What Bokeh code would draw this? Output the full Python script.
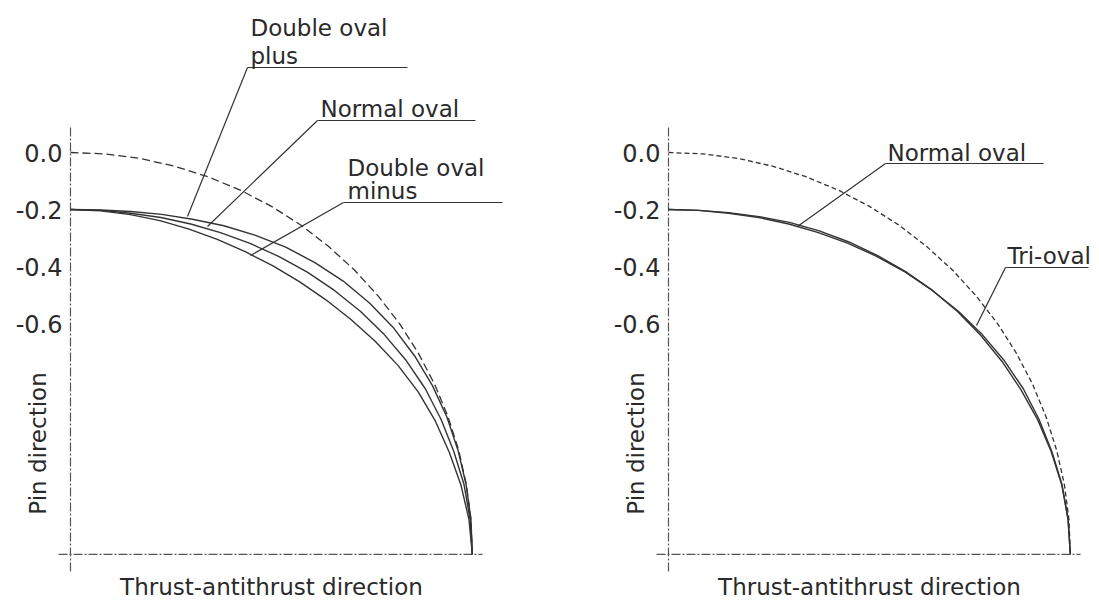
from math import pi
from bokeh.plotting import figure
from bokeh.layouts import row
from bokeh.core.properties import value
from bokeh.embed import file_html
from bokeh.resources import INLINE

# ---------------- data (profile deviation) ----------------
circle_x = [0.000, 0.123, 0.245, 0.365, 0.482, 0.596, 0.705, 0.809, 0.906, 0.997,
            1.080, 1.155, 1.221, 1.278, 1.325, 1.362, 1.389, 1.405, 1.410]
circle_y = [0.000, -0.005, -0.021, -0.048, -0.085, -0.132, -0.189, -0.255, -0.330, -0.413,
            -0.504, -0.601, -0.705, -0.814, -0.928, -1.045, -1.165, -1.287, -1.410]

normal_x = [0.000, 0.106, 0.211, 0.317, 0.422, 0.526, 0.630, 0.732, 0.831, 0.926,
            1.017, 1.101, 1.178, 1.245, 1.300, 1.345, 1.381, 1.402, 1.410]
normal_y = [-0.200, -0.203, -0.213, -0.228, -0.251, -0.281, -0.319, -0.365, -0.420, -0.484,
            -0.557, -0.639, -0.730, -0.829, -0.936, -1.049, -1.166, -1.287, -1.410]

plus_x = [0.000, 0.106, 0.212, 0.320, 0.428, 0.538, 0.647, 0.755, 0.859, 0.958,
          1.050, 1.134, 1.207, 1.270, 1.321, 1.360, 1.388, 1.405, 1.410]
plus_y = [-0.200, -0.202, -0.207, -0.217, -0.234, -0.257, -0.290, -0.332, -0.387, -0.452,
          -0.529, -0.616, -0.713, -0.818, -0.929, -1.046, -1.165, -1.287, -1.410]

minus_x = [0.000, 0.106, 0.210, 0.314, 0.416, 0.515, 0.613, 0.709, 0.803, 0.895,
           0.983, 1.069, 1.149, 1.220, 1.280, 1.329, 1.370, 1.398, 1.410]
minus_y = [-0.200, -0.205, -0.218, -0.239, -0.269, -0.305, -0.348, -0.397, -0.453, -0.516,
           -0.585, -0.662, -0.747, -0.840, -0.942, -1.052, -1.167, -1.287, -1.410]

tri_x = [0.000, 0.106, 0.211, 0.318, 0.424, 0.529, 0.633, 0.734, 0.832, 0.926,
         1.015, 1.096, 1.171, 1.237, 1.296, 1.343, 1.380, 1.402, 1.410]
tri_y = [-0.200, -0.203, -0.211, -0.225, -0.245, -0.275, -0.314, -0.362, -0.418, -0.484,
         -0.559, -0.642, -0.734, -0.833, -0.939, -1.050, -1.167, -1.287, -1.410]

ytick_values = [0.0, -0.2, -0.4, -0.6]
ytick_labels = ["0.0", "-0.2", "-0.4", "-0.6"]

x_title = "Thrust-antithrust direction"
y_title = "Pin direction"

# ---------------- layout (page pixels -> data units) ----------------
S = 285.0        # pixels per data unit
Y0 = 152.0       # page y of value 0.0
PAGE_TOP, PAGE_BOTTOM = 0, 600
FONT = value("DejaVu Sans")
TXT = "#2a2a2a"
CURVE = "#333333"
AXIS = "#555555"
MID = 8.5        # baseline -> middle of capitals


def make_panel(ax, left, right, dash):
    def X(px):
        return (px - ax) / S

    def Y(py):
        return (Y0 - py) / S

    p = figure(width=right - left, height=PAGE_BOTTOM - PAGE_TOP,
               x_range=(X(left), X(right)), y_range=(Y(PAGE_BOTTOM), Y(PAGE_TOP)),
               x_axis_location=None, y_axis_location=None,
               toolbar_location=None, output_backend="svg", min_border=0,
               outline_line_color=None, background_fill_color="white",
               border_fill_color="white")
    p.grid.visible = False

    # axis lines (dash-dot)
    p.line([X(ax), X(ax)], [Y(127), Y(571)], line_color=AXIS, line_width=1.2,
           line_dash="9 2 2 2")
    p.line([X(ax - 12), X(ax + 412)], [circle_y[-1], circle_y[-1]], line_color=AXIS,
           line_width=1.2, line_dash="9 2 2 2")

    # tick labels
    p.text(x=[X(ax - 8)] * len(ytick_values), y=ytick_values, text=ytick_labels,
           text_font=FONT, text_font_size="24px", text_color=TXT,
           text_align="right", text_baseline="middle")

    # axis titles
    p.text(x=[X(ax - 33)], y=[Y(443)], text=[y_title], angle=pi / 2,
           text_font=FONT, text_font_size="23px", text_color=TXT,
           text_align="center", text_baseline="middle")
    p.text(x=[X(ax + 201)], y=[Y(595 - MID)], text=[x_title],
           text_font=FONT, text_font_size="23px", text_color=TXT,
           text_align="center", text_baseline="middle")

    # reference circle
    p.line(circle_x, circle_y, line_color=CURVE, line_width=1.3, line_dash=dash)
    return p, X, Y


def annotate(p, X, Y, lines, x0, baselines, under, leader_end):
    for t, b in zip(lines, baselines):
        p.text(x=[X(x0)], y=[Y(b - MID)], text=[t], text_font=FONT, text_font_size="23px",
               text_color=TXT, text_align="left", text_baseline="middle")
    (ux0, uy), ux1 = under
    p.line([X(ux0), X(ux1)], [Y(uy), Y(uy)], line_color=CURVE, line_width=1.2)
    p.line([X(ux0), X(leader_end[0])], [Y(uy), Y(leader_end[1])], line_color=CURVE,
           line_width=1.2)


# ---------------- left panel ----------------
p1, X1, Y1 = make_panel(70, 0, 597, "8 4")
for xs, ys in [(plus_x, plus_y), (normal_x, normal_y), (minus_x, minus_y)]:
    p1.line(xs, ys, line_color=CURVE, line_width=1.4)
annotate(p1, X1, Y1, ["Double oval", "plus"], 250, [36, 64], ((247, 67), 407), (187, 216))
annotate(p1, X1, Y1, ["Normal oval"], 320, [117], ((317, 120), 475), (207, 226))
annotate(p1, X1, Y1, ["Double oval", "minus"], 347, [176, 199], ((343, 202), 502), (250, 255))

# ---------------- right panel ----------------
p2, X2, Y2 = make_panel(668, 597, 1099, "5 3")
for xs, ys in [(normal_x, normal_y), (tri_x, tri_y)]:
    p2.line(xs, ys, line_color=CURVE, line_width=1.4)
annotate(p2, X2, Y2, ["Normal oval"], 887, [161], ((885, 163), 1043), (797, 226))
annotate(p2, X2, Y2, ["Tri-oval"], 1007, [264], ((1005, 267), 1088), (976, 325))

layout = row(p1, p2)
open("out.html", "w").write(file_html(layout, INLINE))
